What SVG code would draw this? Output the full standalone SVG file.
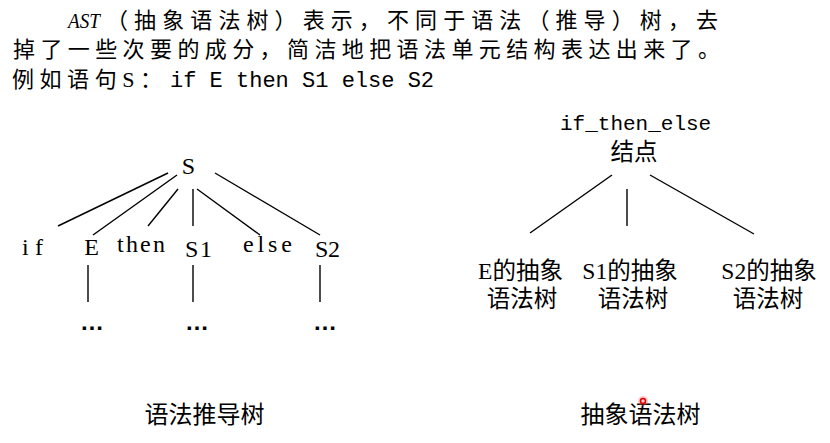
<svg xmlns="http://www.w3.org/2000/svg" width="830" height="443" viewBox="0 0 830 443">
<style>
text{font-family:"Liberation Serif","Noto Sans CJK SC",serif;fill:#000}
.h{font-size:22px}
.mono{font-family:"Liberation Mono","Noto Sans CJK SC",monospace}
.t{font-size:24px}
.c{font-size:23.5px}
.m{text-anchor:middle}
.e{stroke:#000;stroke-width:1.4;fill:none}
.dots{font-family:"Liberation Sans",sans-serif;font-size:24px;font-weight:bold;text-anchor:middle}
</style>
<rect width="830" height="443" fill="#fff"/>
<g id="header">
<text class="h" x="68" y="28" font-style="italic" textLength="32" lengthAdjust="spacingAndGlyphs">AST</text>
<text class="h" x="106" y="28" textLength="612" lengthAdjust="spacing">（抽象语法树）表示，不同于语法（推导）树，去</text>
<text class="h" x="13" y="57" textLength="707" lengthAdjust="spacing">掉了一些次要的成分，简洁地把语法单元结构表达出来了。</text>
<text class="h" x="12" y="87" textLength="150" lengthAdjust="spacing">例如语句S：</text>
<text class="h mono" x="170" y="87" font-size="23">if E then S1 else S2</text>
</g>
<g id="connectors">
<line class="e" x1="168" y1="173" x2="58" y2="226"/>
<line class="e" x1="177" y1="175" x2="93" y2="235"/>
<line class="e" x1="178" y1="189" x2="148" y2="226"/>
<line class="e" x1="193" y1="189" x2="193" y2="226"/>
<line class="e" x1="197" y1="189" x2="260" y2="235"/>
<line class="e" x1="215" y1="173" x2="320" y2="235"/>
<line class="e" x1="88" y1="265" x2="88" y2="302"/>
<line class="e" x1="193" y1="265" x2="193" y2="302"/>
<line class="e" x1="320" y1="265" x2="320" y2="302"/>
<line class="e" x1="612" y1="175" x2="530" y2="233"/>
<line class="e" x1="627" y1="189" x2="627" y2="226"/>
<line class="e" x1="650" y1="175" x2="754" y2="234"/>
</g>
<g id="node-S"><text class="t m" x="188.5" y="174">S</text></g>
<g id="node-if"><text class="t" x="22" y="255" textLength="21" lengthAdjust="spacing">if</text></g>
<g id="node-E"><text class="t m" x="91.5" y="255">E</text></g>
<g id="node-then"><text class="t" x="117" y="252" textLength="48" lengthAdjust="spacing">then</text></g>
<g id="node-S1"><text class="t" x="185" y="257" textLength="27" lengthAdjust="spacing">S1</text></g>
<g id="node-else"><text class="t" x="243" y="252" textLength="49" lengthAdjust="spacing">else</text></g>
<g id="node-S2"><text class="t" x="315" y="257" textLength="25" lengthAdjust="spacing">S2</text></g>
<g id="dots-E"><text class="dots" x="92" y="330">…</text></g>
<g id="dots-S1"><text class="dots" x="197" y="330">…</text></g>
<g id="dots-S2"><text class="dots" x="325" y="330">…</text></g>
<g id="node-ifthenelse">
<text class="mono" x="560" y="130" font-size="21">if_then_else</text>
<text class="c m" x="634" y="160">结点</text>
</g>
<g id="node-E-ast">
<text class="c m" x="520.5" y="279">E的抽象</text>
<text class="c m" x="522" y="307">语法树</text>
</g>
<g id="node-S1-ast">
<text class="c m" x="630" y="279">S1的抽象</text>
<text class="c m" x="633" y="307">语法树</text>
</g>
<g id="node-S2-ast">
<text class="c m" x="769" y="279">S2的抽象</text>
<text class="c m" x="768" y="307">语法树</text>
</g>
<g id="captions">
<text class="t m" x="204.5" y="423">语法推导树</text>
<text class="t m" x="640.5" y="423">抽象语法树</text>
</g>
<circle cx="643" cy="401" r="5" fill="#ff6060" opacity="0.35"/>
<circle cx="643" cy="401" r="2.5" fill="none" stroke="#e00000" stroke-width="1.5"/>
</svg>
